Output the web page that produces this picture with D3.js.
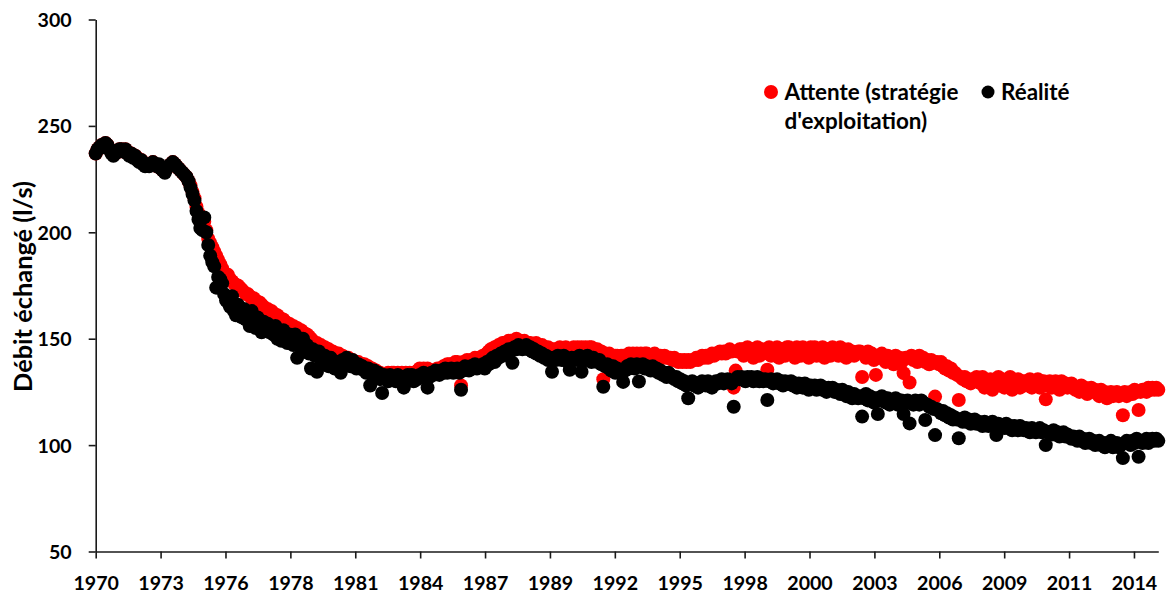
<!DOCTYPE html>
<html><head><meta charset="utf-8">
<script src="https://cdn.jsdelivr.net/npm/d3@7"></script>
<style>
body{margin:0;background:#fff}
svg text{font-family:Lato,"Open Sans",sans-serif;font-weight:700;fill:#000}
</style>
</head><body>
<svg id="chart" width="1168" height="597"></svg>
<script>
// Monthly series, first value = October 1970
const firstMonth = {year: 1970, month: 9}; // 0-based month (October)

const realite = [
  237,239,240,
  241,240,242,241,239,237,236,237,238,239,239,238, // 1971
  239,237,236,237,235,236,234,233,234,232,231,232, // 1972
  231,232,233,232,231,232,230,229,228,230,231,232, // 1973
  233,232,231,230,229,228,227,226,224,221,218,215, // 1974
  210,206,202,201,207,200,194,189,186,184,174,179, // 1975
  178,176,171,168,167,165,170,163,161,166,162,160, // 1976
  164,159,161,156,163,158,155,160,157,153,158,156, // 1977
  157,153,155,152,156,150,153,149,154,151,148,152, // 1978
  150,147,152,141,148,146,150,144,147,143,136,145, // 1979
  142,134.5,144,140,138,142,139,137,141,138,136,139, // 1980
  139,134,140,138,141,139,137,140,138,136,138,136, // 1981
  137,135,134,136,128,133,135,132,134,131,124.5,133, // 1982
  132,130,133,131,132,130,133,131,132,127,131,133, // 1983
  131,133,130,132,131,133,132,134,133,127,132,134, // 1984
  133,135,134,133,135,134,136,134,135,136,134,135, // 1985
  136,134,126,135,137,136,135,137,136,138,136,137, // 1986
  137,138,136,139,138,140,141,139,142,141,143,142, // 1987
  144,143,145,144,138.7,146,145,147,146,145,146,147, // 1988
  145,146,144,145,143,144,142,143,141,142,140,141, // 1989
  134.5,141,140,142,141,140,142,141,139,135.4,141,140, // 1990
  141,140,142,134.5,141,140,142,141,139,141,140,139, // 1991
  140,138,127.4,137,138,136,135,137,134,136,135,134, // 1992
  129.7,135,137,136,138,137,136,138,129.9,137,138,136, // 1993
  137,136,135,137,135,136,134,135,133,134,132,134, // 1994
  133,132,131,132,130,131,129,130,128,122,129,130, // 1995
  128,129,127,128,130,129,128,130,129,127,129,130, // 1996
  129,130,131,129,130,131,130,129,118,131,132,131, // 1997
  132,131,130,132,131,132,130,131,132,130,131,130, // 1998
  131,121.2,130,131,129,130,131,129,130,128,130,129, // 1999
  129,130,128,129,127,129,128,127,129,128,126,128, // 2000
  127,128,126,127,128,126,127,125,127,126,127,125, // 2001
  126,125,124,126,125,123,125,124,122,124,123,122, // 2002
  123,113.4,122,124,121,123,122,120,122,114.6,121,123, // 2003
  121,120,122,119,121,120,122,119,120,121,114.6,120, // 2004
  121,110.2,120,119,121,120,119,121,120,111.8,119,118, // 2005
  118,117,104.7,117,116,115,116,114,115,113,114,112, // 2006
  113,112,103.2,112,111,113,111,112,110,111,112,110, // 2007
  111,110,109,111,110,109,110,111,109,104.7,110,109, // 2008
  109,108,110,108,109,107,109,108,107,109,108,107, // 2009
  108,107,106,108,107,106,107,108,106,107,100,106, // 2010
  106,105,107,105,106,104,105,106,104,105,104,103, // 2011
  104,103,102,104,102,103,101,102,103,101,102,100, // 2012
  101,102,100,101,99,101,100,102,99,100,101,99, // 2013
  100,93.9,101,102,101,100,102,101,103,94.5,102,101, // 2014
  102,103,101,102,103,102,103,102 // 2015
];

const attente = [
  237,239,240,
  241,241,242,241,239,238,237,237,238,239,239,238, // 1971
  239,238,237,237,236,236,235,234,234,233,232,232, // 1972
  232,232,233,232,231,231,230,229,229,230,231,232, // 1973
  233,232,231,230,229,228,227,226,224,222,219,216, // 1974
  212,209,205,202,205,201,197,195,193,191,189,187, // 1975
  185,183,181,179,180,178,177,176,175,175,174,173, // 1976
  172,171,171,170,169,169,168,167,167,166,165,164, // 1977
  164,163,163,162,161,161,160,159,159,158,157,157, // 1978
  156,156,155,155,154,154,153,152,152,151,150,149, // 1979
  148,148,147,147,146,146,145,145,144,144,143,143, // 1980
  143,142,142,141,141,141,140,140,139,139,139,138, // 1981
  138,138,137,137,136,136,135,135,134,134,133,133, // 1982
  133,134,133,134,134,133,134,133,134,133,134,133, // 1983
  134,133,134,134,135,136,135,136,135,136,135,135, // 1984
  135,135,136,135,136,137,137,138,138,137,138,139, // 1985
  139,138,128,139,139,140,139,140,140,141,140,141, // 1986
  141,142,142,143,144,145,145,146,146,147,147,148, // 1987
  148,148,149,149,148,149,150,149,149,148,149,148, // 1988
  148,148,147,147,148,146,146,147,146,145,146,145, // 1989
  144,145,144,145,146,145,145,146,145,144,145,146, // 1990
  145,146,145,146,145,146,145,146,146,145,144,145, // 1991
  143,144,131,143,142,143,142,141,142,142,141,142, // 1992
  142,141,142,143,142,143,142,143,142,143,142,143, // 1993
  143,142,141,142,143,142,141,142,141,142,141,141, // 1994
  141,140,141,140,139,140,139,140,139,140,139,140, // 1995
  140,141,140,141,142,141,142,141,142,143,142,143, // 1996
  143,144,143,144,143,144,145,144,127,135,144,145, // 1997
  145,142,144,146,143,145,141,144,146,142,145,143, // 1998
  144,135.4,146,142,145,143,146,141,145,144,142,146, // 1999
  146,143,145,141,146,144,142,146,143,145,141,146, // 2000
  144,146,142,145,143,146,141,145,144,142,146,143, // 2001
  145,142,146,143,144,141,145,143,144,142,143,144, // 2002
  144,132,143,141,144,142,143,140,133,142,141,143, // 2003
  141,139,142,140,141,138,142,140,141,139,133.8,141, // 2004
  141,129.4,142,140,141,139,142,140,141,139,140,138, // 2005
  140,139,122.8,139,138,139,137,136,137,135,136,134, // 2006
  134,133,121.2,132,131,132,130,131,129,131,130,132, // 2007
  131,129,132,127,130,128,131,126,130,129,132,128, // 2008
  131,127,130,128,132,126,130,129,131,127,130,128, // 2009
  130,128,131,127,130,129,131,127,129,130,121.5,128, // 2010
  130,127,129,130,128,126,130,128,129,127,128,129, // 2011
  128,126,127,125,128,126,127,124,126,127,125,126, // 2012
  125,123,126,124,125,122,124,125,123,124,125,123, // 2013
  124,114,125,123,124,125,124,126,125,116.5,125,126, // 2014
  126,125,127,126,127,126,127,126 // 2015
];

const yTicks = [50, 100, 150, 200, 250, 300];
const xTickLabels = ["1970","1973","1976","1978","1981","1984","1987","1989","1992",
                     "1995","1998","2000","2003","2006","2009","2011","2014"];
const xTickStepDays = 1000;
const seriesLabels = {attente: ["Attente (stratégie", "d'exploitation)"], realite: ["Réalité"]};
const yTitle = "Débit échangé (l/s)";

const svg = d3.select("#chart");
svg.append("rect").attr("width",1168).attr("height",597).attr("fill","#fff");

// font size so that a sample string reaches a target width
function fitSize(str, target) {
  const t = svg.append("text").attr("font-size", 20).text(str);
  const w = t.node().getComputedTextLength();
  t.remove();
  return w > 0 ? 20 * target / w : 20;
}
const tickFont = fitSize("1970", 45.5);
const titleFont = fitSize(yTitle, 211);
const legendFont = fitSize(seriesLabels.attente[0], 174);

const dayMs = 86400000;
const t0 = Date.UTC(firstMonth.year, firstMonth.month, 1);
const n = Math.max(realite.length, attente.length);
const tEnd = Date.UTC(firstMonth.year, firstMonth.month + n - 1, 1);
const monthDate = i => new Date(Date.UTC(firstMonth.year, firstMonth.month + i, 1));

const x = d3.scaleUtc().domain([new Date(t0), new Date(tEnd)]).range([95.7, 1158.3]);
const y = d3.scaleLinear().domain([50, 300]).range([551.5, 19.5]);

const xTickVals = xTickLabels.map((_, k) => new Date(t0 + k * xTickStepDays * dayMs));

// axes
const gx = svg.append("g").attr("transform", `translate(0,${y(50)})`)
  .call(d3.axisBottom(x).tickValues(xTickVals).tickFormat((d,i)=>xTickLabels[i])
        .tickSize(7).tickSizeOuter(0));
gx.selectAll(".tick text").attr("y", 38.5).attr("dy", 0);
const gy = svg.append("g").attr("transform", `translate(${x.range()[0]},0)`)
  .call(d3.axisLeft(y).tickValues(yTicks).tickFormat(d3.format("d"))
        .tickSize(7).tickSizeOuter(0).tickPadding(17));
[gx, gy].forEach(g => {
  g.select(".domain").attr("stroke","#1a1a1a").attr("stroke-width",1.6);
  g.selectAll(".tick line").attr("stroke","#1a1a1a").attr("stroke-width",1.6);
  g.selectAll(".tick text").attr("font-size",tickFont).attr("font-family","Lato")
    .attr("font-weight",700).attr("fill","#000");
});
gy.selectAll(".tick text").attr("dy","0.36em");

svg.append("text").attr("transform", `translate(22,${(y(50)+y(300))/2 + 1}) rotate(-90)`)
  .attr("text-anchor","middle").attr("dominant-baseline","central")
  .attr("font-size",titleFont).text(yTitle);

// series (Attente first, Réalité drawn on top)
const r = 7;
svg.append("g").selectAll("circle").data(attente).join("circle")
  .attr("cx",(d,i)=>x(monthDate(i))).attr("cy",d=>y(d)).attr("r",r).attr("fill","#ff0000");
svg.append("g").selectAll("circle").data(realite).join("circle")
  .attr("cx",(d,i)=>x(monthDate(i))).attr("cy",d=>y(d)).attr("r",r).attr("fill","#000000");

// legend
const lg = svg.append("g");
lg.append("circle").attr("cx",771).attr("cy",92).attr("r",7).attr("fill","#ff0000");
lg.append("text").attr("x",784.5).attr("y",100).attr("font-size",legendFont).text(seriesLabels.attente[0]);
lg.append("text").attr("x",784.5).attr("y",128.5).attr("font-size",legendFont).text(seriesLabels.attente[1]);
lg.append("circle").attr("cx",988).attr("cy",92).attr("r",6.5).attr("fill","#000");
lg.append("text").attr("x",1001).attr("y",100).attr("font-size",legendFont).text(seriesLabels.realite[0]);
</script>
</body></html>
